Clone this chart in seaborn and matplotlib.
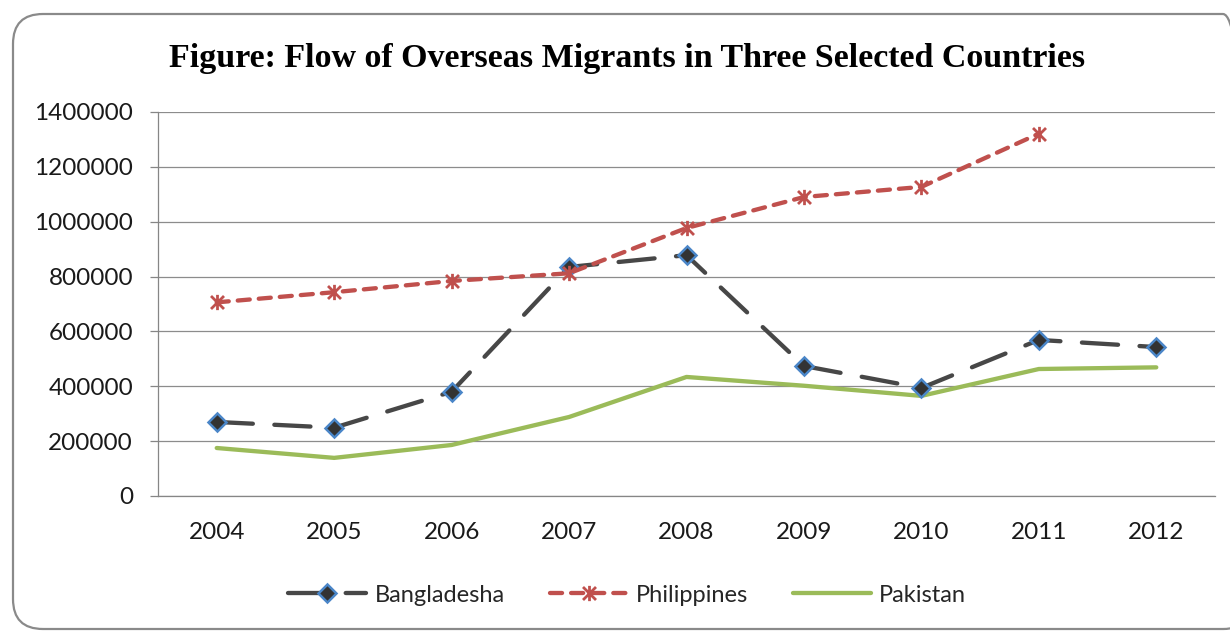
import numpy as np
import pandas as pd
import matplotlib
matplotlib.use("Agg")
import matplotlib.pyplot as plt
from matplotlib.path import Path
from matplotlib.patches import FancyBboxPatch
from matplotlib.transforms import IdentityTransform
from matplotlib.ticker import FixedLocator
import seaborn as sns

# --- data ---
years = [2004, 2005, 2006, 2007, 2008, 2009, 2010, 2011, 2012]
bangladesh = [270000, 249000, 380000, 835000, 878000, 474000, 394000, 569000, 543000]
philippines = [706000, 743000, 784000, 812000, 977000, 1090000, 1127000, 1321000]
pakistan = [175000, 139000, 186000, 288000, 434000, 402000, 365000, 463000, 469000]
y_ticks = [0, 200000, 400000, 600000, 800000, 1000000, 1200000, 1400000]
title = "Figure: Flow of Overseas Migrants in Three Selected Countries"

sns.set_style("white")
plt.rcParams["font.family"] = ["Lato", "DejaVu Sans"]

fig = plt.figure(figsize=(12.3, 6.31), dpi=100)
ax = fig.add_axes([158 / 1230, 135 / 631, 1057 / 1230, 384 / 631])

# rounded chart frame (pixel coords, origin bottom-left), runs off right edge
frame = FancyBboxPatch((13, 2), 1240, 615,
                       boxstyle="round,pad=0,rounding_size=30",
                       transform=IdentityTransform(), facecolor="none",
                       edgecolor="#8a8a8a", lw=1.6, zorder=0)
fig.patches.append(frame)

asterisk = Path(
    [(0, -1), (0, 1), (-0.85, -0.85), (0.85, 0.85), (-0.85, 0.85), (0.85, -0.85)],
    [Path.MOVETO, Path.LINETO, Path.MOVETO, Path.LINETO, Path.MOVETO, Path.LINETO])

lw = 3.1
sns.lineplot(x=years, y=bangladesh, ax=ax, color="#474747", lw=lw,
             linestyle=(0, (8.4, 5.0)), dash_capstyle="round",
             marker="D", markersize=9, markerfacecolor="#333333",
             markeredgecolor="#4a86c8", markeredgewidth=1.8,
             label="Bangladesha", zorder=3)
sns.lineplot(x=years[:len(philippines)], y=philippines, ax=ax, color="#c0504d",
             lw=lw, linestyle=(0, (2.8, 2.1)), dash_capstyle="round",
             marker=asterisk, markersize=11, markeredgecolor="#c0504d",
             markeredgewidth=2.0, label="Philippines", zorder=3)
sns.lineplot(x=years, y=pakistan, ax=ax, color="#9bbb59", lw=lw,
             label="Pakistan", zorder=2)

# axes styling, Excel-like
ax.set_xlim(2003.5, 2012.5)
ax.set_ylim(0, 1400000)
ax.set_xticks(years)
ax.set_xticklabels([str(y) for y in years])
ax.xaxis.set_minor_locator(FixedLocator(np.arange(2003.5, 2013, 1.0)))
ax.set_yticks(y_ticks)
ax.set_yticklabels([str(v) for v in y_ticks])
ax.grid(axis="y", color="#8c8c8c", lw=0.9)
ax.set_axisbelow(True)
for side in ["top", "right"]:
    ax.spines[side].set_visible(False)
for side in ["left", "bottom"]:
    ax.spines[side].set_color("#868686")
    ax.spines[side].set_linewidth(0.9)
ax.tick_params(axis="x", which="major", length=0, pad=19, labelsize=17.5,
               labelcolor="#1a1a1a")
ax.tick_params(axis="x", which="minor", length=8, width=0.9, color="#868686",
               direction="out")
ax.tick_params(axis="y", length=6, width=0.9, color="#868686", direction="out",
               pad=12, labelsize=17.5, labelcolor="#1a1a1a", left=True)
ax.set_xlabel("")
ax.set_ylabel("")

ax.get_legend().remove()
handles, labels = ax.get_legend_handles_labels()
fig.legend(handles, labels, loc="center", ncol=3, bbox_to_anchor=(0.510, 0.057),
           frameon=False, fontsize=17, handlelength=3.3, handletextpad=0.35,
           columnspacing=1.9, numpoints=1)

fig.text(0.510, 0.907, title, ha="center", va="center", fontsize=24.5,
         fontweight="bold", color="black",
         family=["Liberation Serif", "DejaVu Serif"])

fig.savefig("out.png", dpi=100)
